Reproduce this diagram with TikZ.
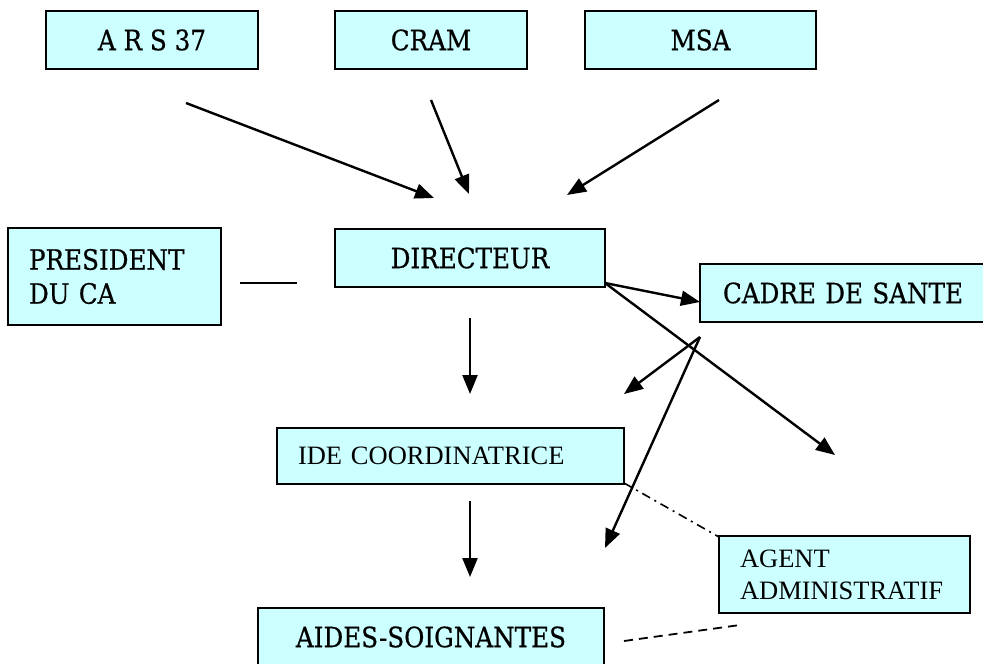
\documentclass[tikz,border=0pt]{standalone}
\usepackage{fontspec}
\setmainfont{Liberation Serif}
\newfontfamily\slab[FakeStretch=0.88,FakeBold=0.6]{DejaVu Serif}
\usetikzlibrary{arrows.meta}
\definecolor{boxfill}{HTML}{CCFFFF}
\tikzset{
  box/.style={draw=black, line width=2.1pt, fill=boxfill, inner sep=0pt, outer sep=0pt},
  slabtxt/.style={font=\slab\fontsize{28}{34}\selectfont},
  timestxt/.style={font=\fontsize{26.5}{32}\selectfont},
  arr/.style={line width=2.4pt, -{Triangle[length=19pt,width=15pt]}},
  plainline/.style={line width=2pt},
  dashdotline/.style={line width=1.6pt, dash pattern=on 9pt off 5pt on 2pt off 5pt},
  dashline/.style={line width=1.8pt, dash pattern=on 9pt off 6pt}
}
\begin{document}
\begin{tikzpicture}[x=1pt,y=-1pt]
\clip (0,0) rectangle (983,664);
\fill[white] (0,0) rectangle (983,664);
% top row
\node[box, slabtxt, minimum width=212pt, minimum height=58pt] (ars) at (152,40) {A R S 37};
\node[box, slabtxt, minimum width=192pt, minimum height=58pt] (cram) at (431,40) {CRAM};
\node[box, slabtxt, minimum width=231pt, minimum height=58pt] (msa) at (700.5,40) {MSA};
% middle
\node[box, slabtxt, minimum width=270pt, minimum height=58pt] (dir) at (470,258) {DIRECTEUR};
\node[box, slabtxt, minimum width=213pt, minimum height=97pt, text width=171pt, align=left, inner xsep=21pt] (pres) at (114.5,276.5) {PRESIDENT\\DU CA};
\node[box, slabtxt, anchor=west, minimum width=320pt, minimum height=58pt, text width=274pt, align=left, inner xsep=23pt] (cadre) at (700,293) {CADRE DE SANTE};
\node[box, timestxt, minimum width=347pt, minimum height=56pt, text width=305pt, align=left, inner xsep=21pt] (ide) at (450.5,456) {IDE COORDINATRICE};
\node[box, timestxt, minimum width=251pt, minimum height=77pt, text width=209pt, align=left, inner xsep=21pt] (agent) at (844.5,574.5) {AGENT\\ADMINISTRATIF};
\node[box, slabtxt, minimum width=346pt, minimum height=58pt] (aides) at (431,637) {AIDES-SOIGNANTES};
% free connector ends
\coordinate (a1s) at (186,103);  \coordinate (a1e) at (434,198);
\coordinate (a2s) at (431,100);  \coordinate (a2e) at (469,194);
\coordinate (a3s) at (719,100);  \coordinate (a3e) at (567,195);
\coordinate (ps) at (240,283);   \coordinate (pe) at (297,283);
\coordinate (d1s) at (470,318);  \coordinate (d1e) at (470,394);
\coordinate (d2s) at (470,501);  \coordinate (d2e) at (470,577);
\coordinate (dirc) at (605,283);
\coordinate (cadt) at (700,302);
\coordinate (diag) at (835,455);
\coordinate (cs) at (700,337);
\coordinate (c1e) at (624,394);
\coordinate (c2e) at (605,548);
\coordinate (idec) at (624,483);
\coordinate (agc) at (719,537);
\coordinate (as) at (624,641);
\coordinate (ae) at (740,625);
% connectors
\draw[arr] (a1s) -- (a1e);
\draw[arr] (a2s) -- (a2e);
\draw[arr] (a3s) -- (a3e);
\draw[plainline] (ps) -- (pe);
\draw[arr] (d1s) -- (d1e);
\draw[arr] (d2s) -- (d2e);
\draw[arr] (dirc) -- (cadt);
\draw[arr] (dirc) -- (diag);
\draw[arr] (cs) -- (c1e);
\draw[arr] (cs) -- (c2e);
\draw[dashdotline] (idec) -- (agc);
\draw[dashline] (as) -- (ae);
\end{tikzpicture}
\end{document}
